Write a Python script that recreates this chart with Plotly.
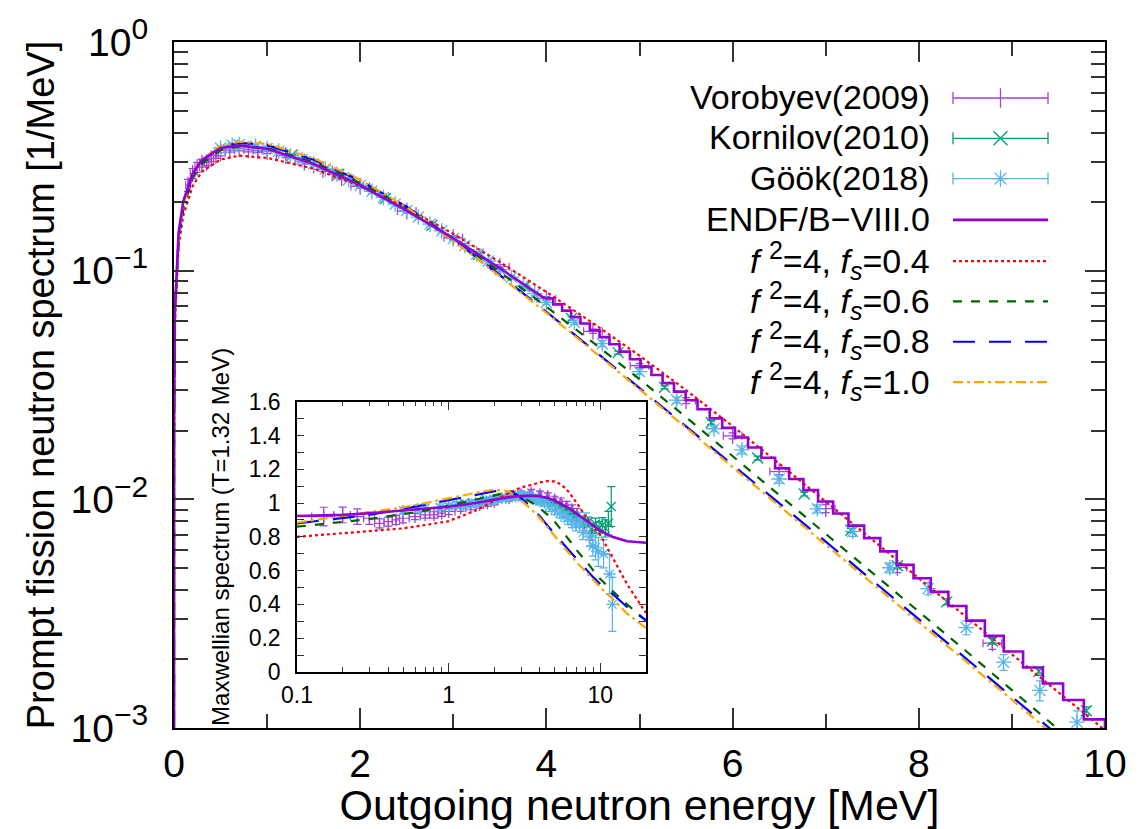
import plotly.graph_objects as go

# ---------------- main panel: model curves [1/MeV] ----------------
E_main = [1e-6, 1e-5, 1e-4, 0.001, 0.01, 0.05, 0.1, 0.2, 0.3, 0.5, 0.7, 1.0, 1.5, 2.0, 2.5,
          3.0, 3.5, 4.0, 4.5, 5.0, 5.5, 6.0, 6.5, 7.0, 7.5, 8.0, 8.5, 9.0, 9.5, 10.0]
fs04_main = [5.952e-4, 1.882e-3, 5.952e-3, 0.01881, 0.05906, 0.12815, 0.17449, 0.23448, 0.27111,
             0.30617, 0.31866, 0.31147, 0.27934, 0.23472, 0.18764, 0.14498, 0.10898, 0.08064,
             0.05897, 0.04249, 0.03003, 0.02089, 0.014336, 0.0097959, 0.006665, 0.004517,
             0.003084, 0.002099, 0.001434, 0.000977]
fs06_main = [6.398e-4, 2.024e-3, 6.398e-3, 0.02022, 0.06349, 0.13776, 0.18757, 0.25450, 0.29384,
             0.33679, 0.34980, 0.34356, 0.29835, 0.24166, 0.18853, 0.13808, 0.09867, 0.06957,
             0.04854, 0.03353, 0.02286, 0.015474, 0.010477, 0.007053, 0.004790, 0.003240,
             0.002183, 0.001465, 0.000987, 0.000663]
fs08_main = [6.547e-4, 2.071e-3, 6.547e-3, 0.02069, 0.06497, 0.14097, 0.19194, 0.26021, 0.30195,
             0.34759, 0.36262, 0.35402, 0.30566, 0.24744, 0.19030, 0.13675, 0.09573, 0.06612,
             0.04514, 0.03070, 0.02083, 0.014217, 0.009650, 0.006534, 0.004422, 0.002995,
             0.002027, 0.001367, 0.000927, 0.000627]
fs10_main = [6.584e-4, 2.082e-3, 6.584e-3, 0.02081, 0.06534, 0.14177, 0.19303, 0.26450, 0.30682,
             0.35120, 0.36628, 0.35925, 0.31005, 0.24975, 0.18941, 0.13503, 0.09455, 0.06540,
             0.04462, 0.03032, 0.02056, 0.013830, 0.009374, 0.006338, 0.004304, 0.002921,
             0.001975, 0.001330, 0.000896, 0.000603]

# ENDF/B-VIII.0: smooth below 4 MeV, histogram bins (100 per decade) above
E_endf = [1e-6, 1e-5, 1e-4, 0.001, 0.01, 0.05, 0.1, 0.2, 0.3, 0.5, 0.7, 1.0, 1.5, 2.0, 2.5,
          3.0, 3.5, 3.98107]
endf_main = [6.867e-4, 2.172e-3, 6.867e-3, 0.02170, 0.06815, 0.14786, 0.20132, 0.26593, 0.30520,
             0.34399, 0.35346, 0.34112, 0.29250, 0.23634, 0.18322, 0.13835, 0.10250, 0.07565]
E_bins = [3.98107, 4.07380, 4.16869, 4.26580, 4.36516, 4.46684, 4.57088, 4.67735, 4.78630,
          4.89779, 5.01187, 5.12861, 5.24807, 5.37032, 5.49541, 5.62341, 5.75440, 5.88844,
          6.02560, 6.16595, 6.30957, 6.45654, 6.60693, 6.76083, 6.91831, 7.07946, 7.24436,
          7.41310, 7.58578, 7.76247, 7.94328, 8.12831, 8.31764, 8.51138, 8.70964, 8.91251,
          9.12011, 9.33254, 9.54993, 9.77237, 10.0]
endf_bins = [0.07565, 0.07119, 0.06689, 0.06275, 0.05876, 0.05493, 0.05120, 0.04764, 0.04424,
             0.04101, 0.03794, 0.03499, 0.03221, 0.02958, 0.02711, 0.02479, 0.02259, 0.02054,
             0.01863, 0.01686, 0.01520, 0.01367, 0.01227, 0.01097, 0.009780, 0.008673, 0.007677,
             0.006768, 0.005921, 0.005170, 0.004520, 0.003938, 0.003416, 0.002949, 0.002528,
             0.002162, 0.001840, 0.001565, 0.001326, 0.001091, 0.000923]

# ---------------- measurements (spectrum and ratio to Maxwellian) ----------------
vor_E = [0.15, 0.2, 0.25, 0.3, 0.35, 0.4, 0.45, 0.5, 0.6, 0.7, 0.8, 0.9, 1.0, 1.2, 1.4, 1.6,
         1.8, 2.0, 2.5, 3.0, 3.5, 4.0, 4.5, 5.0, 5.5, 6.0, 6.5, 7.0, 7.77, 8.79]
vor_dE = [0.025, 0.025, 0.025, 0.025, 0.025, 0.025, 0.025, 0.05, 0.05, 0.05, 0.05, 0.05, 0.1,
          0.1, 0.1, 0.1, 0.1, 0.1, 0.1, 0.1, 0.1, 0.1, 0.1, 0.1, 0.1, 0.1, 0.1, 0.1, 0.1, 0.1]
vor_main = [0.2366, 0.2659, 0.2832, 0.2955, 0.2971, 0.3093, 0.3194, 0.3278, 0.3365, 0.3406,
            0.3376, 0.3355, 0.3314, 0.3185, 0.2987, 0.2772, 0.2553, 0.2336, 0.1823, 0.1394,
            0.1041, 0.07546, 0.05428, 0.03842, 0.02705, 0.01896, 0.01323, 0.00911, 0.005037,
            0.002349]
vor_ratio = [0.92, 0.93, 0.92, 0.91, 0.88, 0.89, 0.90, 0.91, 0.92, 0.93, 0.93, 0.94, 0.95, 0.97,
             0.98, 0.99, 1.00, 1.01, 1.03, 1.05, 1.06, 1.05, 1.04, 1.02, 1.00, 0.98, 0.96, 0.93,
             0.87, 0.83]
vor_rel = [0.06, 0.05, 0.05, 0.04, 0.03, 0.03, 0.03, 0.03, 0.02, 0.02, 0.02, 0.02, 0.02, 0.02,
           0.02, 0.02, 0.02, 0.02, 0.02, 0.02, 0.02, 0.02, 0.02, 0.02, 0.03, 0.03, 0.03, 0.04,
           0.05, 0.06]

kor_E = [1.27, 1.77, 2.27, 2.77, 3.27, 3.77, 4.27, 4.77, 5.27, 5.77, 6.27, 6.77, 7.27, 7.77,
         8.30, 8.79, 9.29, 9.80]
kor_main = [0.3204, 0.2641, 0.2068, 0.1580, 0.1175, 0.08554, 0.06173, 0.04380, 0.03089, 0.02168,
            0.01515, 0.01055, 0.007323, 0.00512, 0.00356, 0.00240, 0.00177, 0.00119]
kor_ratio = [1.00, 1.02, 1.03, 1.04, 1.04, 1.03, 1.02, 1.00, 0.98, 0.96, 0.94, 0.92, 0.90, 0.884,
             0.89, 0.848, 0.876, 0.856]
kor_rel = [0.01, 0.01, 0.01, 0.01, 0.01, 0.01, 0.015, 0.015, 0.015, 0.02, 0.02, 0.02, 0.02, 0.03,
           0.03, 0.03, 0.04, 0.04]
kor_E_hi = [10.3, 10.8, 11.3, 11.8]
kor_ratio_hi = [0.87, 0.85, 0.88, 0.98]
kor_rel_hi = [0.05, 0.06, 0.08, 0.12]

gook_E = [0.5, 0.625, 0.7, 0.875, 1.0, 1.125, 1.25, 1.375, 1.5, 1.625, 1.75, 1.875, 2.0, 2.125,
          2.25, 2.375, 2.5, 2.625, 2.75, 2.875, 3.0, 3.125, 3.25, 3.375, 3.5, 3.625, 3.75,
          3.875, 4.0, 4.3, 4.6, 5.0, 5.4, 5.8, 6.1, 6.5, 6.91, 7.29, 7.69, 8.10, 8.51, 8.91,
          9.30, 9.70]
gook_main = [0.3440, 0.3535, 0.3553, 0.3497, 0.3418, 0.3332, 0.3179, 0.3063, 0.2925, 0.2783,
             0.2640, 0.2498, 0.2359, 0.2223, 0.2090, 0.1954, 0.1832, 0.1716, 0.1598, 0.1493,
             0.1381, 0.1288, 0.1184, 0.1102, 0.1011, 0.09363, 0.08578, 0.07933, 0.07259,
             0.05937, 0.04795, 0.03616, 0.02718, 0.02036, 0.01645, 0.01227, 0.00909, 0.00724,
             0.00502, 0.00407, 0.00275, 0.00194, 0.00146, 0.00106]
gook_ratio = [0.955, 0.965, 0.97, 0.975, 0.98, 0.99, 0.985, 0.995, 1.0, 1.005, 1.01, 1.015, 1.02,
              1.025, 1.03, 1.03, 1.035, 1.04, 1.04, 1.045, 1.04, 1.045, 1.035, 1.04, 1.03, 1.03,
              1.02, 1.02, 1.01, 1.0, 0.98, 0.96, 0.94, 0.92, 0.91, 0.89, 0.87, 0.90, 0.825,
              0.889, 0.80, 0.746, 0.738, 0.711]
gook_rel = [0.02] * 29 + [0.02, 0.03, 0.03, 0.03, 0.03, 0.04, 0.04, 0.04, 0.05, 0.05, 0.06,
                          0.07, 0.08, 0.10, 0.12]
gook_E_hi = [10.5, 11.5, 12.0]
gook_ratio_hi = [0.70, 0.58, 0.40]
gook_rel_hi = [0.12, 0.2, 0.4]

# ---------------- inset: ratio to Maxwellian (T=1.32 MeV) ----------------
E_in = [0.1, 0.2, 0.3, 0.5, 0.7, 1.0, 1.5, 2.0, 2.5, 3.0, 3.5, 4.0, 4.5, 5.0, 5.5, 6.0, 6.5, 7.0,
        7.5, 8.0, 8.5, 9.0, 9.5, 10.0, 12.0, 15.0, 20.0]
endf_in = [0.923, 0.93, 0.94, 0.955, 0.965, 0.978, 1.0, 1.022, 1.035, 1.042, 1.044, 1.04, 1.03,
           1.015, 0.997, 0.977, 0.958, 0.938, 0.918, 0.899, 0.882, 0.866, 0.85, 0.836, 0.80,
           0.774, 0.765]
fs04_in = [0.80, 0.82, 0.835, 0.85, 0.87, 0.893, 0.955, 1.015, 1.06, 1.092, 1.11, 1.122, 1.13,
           1.128, 1.11, 1.08, 1.04, 1.0, 0.96, 0.92, 0.89, 0.86, 0.835, 0.81, 0.68, 0.52, 0.35]
fs06_in = [0.86, 0.89, 0.905, 0.935, 0.955, 0.985, 1.02, 1.045, 1.065, 1.04, 1.005, 0.968, 0.93,
           0.89, 0.845, 0.80, 0.76, 0.72, 0.69, 0.66, 0.63, 0.60, 0.575, 0.55, 0.48, 0.40, 0.305]
fs08_in = [0.88, 0.91, 0.93, 0.965, 0.99, 1.015, 1.045, 1.07, 1.075, 1.03, 0.975, 0.92, 0.865,
           0.815, 0.77, 0.735, 0.70, 0.667, 0.637, 0.61, 0.585, 0.56, 0.54, 0.52, 0.463, 0.385,
           0.305]
fs10_in = [0.885, 0.925, 0.945, 0.975, 1.0, 1.03, 1.06, 1.08, 1.07, 1.017, 0.963, 0.91, 0.855,
           0.805, 0.76, 0.715, 0.68, 0.647, 0.62, 0.595, 0.57, 0.545, 0.522, 0.50, 0.435, 0.345,
           0.26]

# ---------------- styles ----------------
FONT = "Liberation Sans, Arial, Helvetica, sans-serif"
C_ENDF = "#9400D3"
C_VOR = "#a243d8"
C_KOR = "#009E73"
C_GOOK = "#56B4E9"
C_04 = "#FF0000"
C_06 = "#006400"
C_08 = "#0000FF"
C_10 = "#FFA500"


def fs_label(v):
    return ("<i>f</i>\u00a0<sup><span style='font-size:25px'>2</span></sup>=4, "
            "<i>f<sub><span style='font-size:25px'>s</span></sub></i>=" + v)


model_styles = [
    (fs_label("0.4"), C_04, "dot", 2.2),
    (fs_label("0.6"), C_06, "dash", 2.2),
    (fs_label("0.8"), C_08, "22px,14px", 2.2),
    (fs_label("1.0"), C_10, "10px,4px,3px,4px", 2.2),
]

fig = go.Figure()


def errs(vals, rel):
    return [v * r for v, r in zip(vals, rel)]


def add_panel(xa, ya, E_c, endf_c, models_c, data, step=None):
    # measurements first, curves on top
    for (ex, ey, dx, rel, sym, col, size) in data:
        fig.add_trace(go.Scatter(
            x=ex, y=ey, mode="markers", xaxis=xa, yaxis=ya, showlegend=False,
            marker=dict(symbol=sym, size=size, color=col, line=dict(color=col, width=1.3)),
            error_y=dict(type="data", array=errs(ey, rel), color=col, thickness=1.2, width=4),
            error_x=(dict(type="data", array=dx, color=col, thickness=1.2, width=4)
                     if dx is not None else None),
        ))
    for (name, col, dash, w), vals in zip(model_styles, models_c[1]):
        fig.add_trace(go.Scatter(x=models_c[0], y=vals, mode="lines", xaxis=xa, yaxis=ya,
                                 showlegend=False, line=dict(color=col, dash=dash, width=w)))
    fig.add_trace(go.Scatter(x=E_c, y=endf_c, mode="lines", xaxis=xa, yaxis=ya,
                             showlegend=False, line=dict(color=C_ENDF, width=2.6)))
    if step is not None:
        fig.add_trace(go.Scatter(x=step[0], y=step[1], mode="lines", xaxis=xa, yaxis=ya,
                                 showlegend=False,
                                 line=dict(color=C_ENDF, width=2.6, shape="hv")))


add_panel("x", "y", E_endf, endf_main,
          (E_main, [fs04_main, fs06_main, fs08_main, fs10_main]),
          [(vor_E, vor_main, vor_dE, vor_rel, "line-ns", C_VOR, 12),
           (kor_E, kor_main, None, kor_rel, "x-thin", C_KOR, 11),
           (gook_E, gook_main, None, gook_rel, "asterisk", C_GOOK, 13)],
          step=(E_bins, endf_bins))

add_panel("x2", "y2", E_in, endf_in,
          (E_in, [fs04_in, fs06_in, fs08_in, fs10_in]),
          [(vor_E, vor_ratio, vor_dE, vor_rel, "line-ns", C_VOR, 9),
           (kor_E + kor_E_hi, kor_ratio + kor_ratio_hi, None, kor_rel + kor_rel_hi,
            "x-thin", C_KOR, 9),
           (gook_E + gook_E_hi, gook_ratio + gook_ratio_hi, None, gook_rel + gook_rel_hi,
            "asterisk", C_GOOK, 10)])

# ---------------- key (text right-aligned, sample on the right) ----------------
# key axes use pixel-like units so that rows line up with the text
key_rows = [89, 130, 171, 213, 255, 296, 337, 378]
key_labels = ["Vorobyev(2009)", "Kornilov(2010)", "Göök(2018)", "ENDF/B−VIII.0"] + \
             [m[0] for m in model_styles]
KX0, KX1, KXM = 953, 1048, 1000.5

for (row, sym, col) in zip(key_rows[:3], ["line-ns", "x-thin", "asterisk"],
                           [C_VOR, C_KOR, C_GOOK]):
    fig.add_trace(go.Scatter(
        x=[KXM], y=[row], mode="markers", xaxis="x3", yaxis="y3", showlegend=False,
        marker=dict(symbol=sym, size=14, color=col, line=dict(color=col, width=1.3)),
        error_x=dict(type="data", array=[KX1 - KXM], color=col, thickness=1.3, width=6)))
fig.add_trace(go.Scatter(x=[KX0, KX1], y=[key_rows[3]] * 2, mode="lines", xaxis="x3",
                         yaxis="y3", showlegend=False, line=dict(color=C_ENDF, width=2.6)))
for row, (name, col, dash, w) in zip(key_rows[4:], model_styles):
    fig.add_trace(go.Scatter(x=[KX0, KX1], y=[row] * 2, mode="lines", xaxis="x3", yaxis="y3",
                             showlegend=False, line=dict(color=col, dash=dash, width=w)))

annotations = []
for row, lab in zip(key_rows, key_labels):
    annotations.append(dict(x=932, y=row - 1, xref="x3", yref="y3", text=lab, showarrow=False,
                            xanchor="right", yanchor="middle",
                            font=dict(family=FONT, size=34, color="black")))

W, H = 1144, 829
L, R, T, B = 174, 39, 32, 99
PW, PH = W - L - R, H - T - B


def px_x(p):
    return (p - L) / PW


def px_y(p):
    return (H - B - p) / PH


def dec(e):
    return "10<sup><span style='font-size:30px'>" + e + "</span></sup>"


ax_common = dict(showline=True, linecolor="black", mirror="allticks", ticks="inside",
                 tickcolor="#333333", showgrid=False, zeroline=False)

fig.update_layout(
    width=W, height=H, margin=dict(l=L, r=R, t=T, b=B),
    paper_bgcolor="white", plot_bgcolor="white", showlegend=False,
    font=dict(family=FONT, color="black"),
    annotations=annotations,
    xaxis=dict(**ax_common, range=[0, 10], tickvals=[0, 2, 4, 6, 8, 10], ticklen=20,
               tickwidth=1.5, linewidth=2.2,
               minor=dict(tickvals=[1, 3, 5, 7, 9], ticklen=14, ticks="inside",
                          tickcolor="#333333", tickwidth=1.5),
               tickfont=dict(size=39), ticklabelstandoff=0,
               title=dict(text="Outgoing neutron energy [MeV]", font=dict(size=43), standoff=2)),
    yaxis=dict(**ax_common, type="log", range=[-3, 0], linewidth=2.2,
               tickvals=[1e-3, 1e-2, 1e-1, 1],
               ticktext=[dec("−3"), dec("−2"), dec("−1"), dec("0")],
               ticklen=20, tickwidth=1.5,
               minor=dict(tickvals=[m * 10 ** e for e in (-3, -2, -1) for m in range(2, 10)],
                          ticklen=14, ticks="inside", tickcolor="#333333", tickwidth=1.5),
               tickfont=dict(size=39), ticklabelstandoff=16,
               title=dict(text="Prompt fission neutron spectrum [1/MeV]", font=dict(size=38),
                          standoff=4)),
    xaxis2=dict(**ax_common, anchor="y2", domain=[px_x(297), px_x(646)], type="log",
                range=[-1, 1.30103], tickvals=[0.1, 1, 10], ticktext=["0.1", "1", "10"],
                ticklen=9, tickwidth=1, linewidth=1.5,
                minor=dict(tickvals=[0.2, 0.3, 0.4, 0.5, 0.6, 0.7, 0.8, 0.9,
                                     2, 3, 4, 5, 6, 7, 8, 9, 20],
                           ticklen=5, ticks="inside", tickcolor="#333333", tickwidth=1),
                tickfont=dict(size=23), ticklabelstandoff=2),
    yaxis2=dict(**ax_common, anchor="x2", domain=[px_y(673), px_y(398)], range=[0, 1.6],
                tickvals=[0, 0.2, 0.4, 0.6, 0.8, 1.0, 1.2, 1.4, 1.6],
                ticktext=["0", "0.2", "0.4", "0.6", "0.8", "1", "1.2", "1.4", "1.6"],
                ticklen=7, tickwidth=1, linewidth=1.5,
                minor=dict(tickvals=[0.1, 0.3, 0.5, 0.7, 0.9, 1.1, 1.3, 1.5], ticklen=7,
                           ticks="inside", tickcolor="#333333", tickwidth=1),
                tickfont=dict(size=23), ticklabelstandoff=10,
                title=dict(text="Maxwellian spectrum (T=1.32 MeV)", font=dict(size=24),
                           standoff=12)),
    xaxis3=dict(domain=[px_x(900), px_x(1080)], range=[900, 1080], visible=False,
                anchor="y3", fixedrange=True),
    yaxis3=dict(domain=[px_y(400), px_y(60)], range=[400, 60], visible=False,
                anchor="x3", fixedrange=True),
)

fig.write_html("out.html")
